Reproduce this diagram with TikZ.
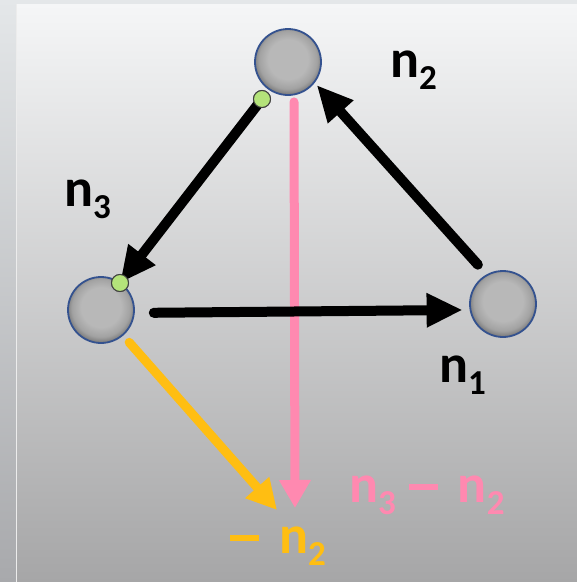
\documentclass[tikz,border=0pt]{standalone}
\usepackage{fontspec}
\setmainfont{Carlito}
\usetikzlibrary{arrows.meta}
\definecolor{bgA}{HTML}{E4E7E9}
\definecolor{bgB}{HTML}{A8A9AC}
\definecolor{pnA}{HTML}{F5F6F7}
\definecolor{pnM}{HTML}{CFD0D2}
\definecolor{pnB}{HTML}{A6A6A7}
\definecolor{ballA}{HTML}{B8B8B8}
\definecolor{ballB}{HTML}{A2A2A2}
\definecolor{ballC}{HTML}{7A7A7A}
\definecolor{rimc}{HTML}{34528F}
\definecolor{dotc}{HTML}{B4E37A}
\definecolor{pinkc}{HTML}{FF89B0}
\definecolor{orc}{HTML}{FFBE12}
\pgfdeclareradialshading{ball}{\pgfpoint{0bp}{3bp}}{color(0bp)=(ballA); color(15bp)=(ballA); color(22bp)=(ballB); color(26bp)=(ballC); color(50bp)=(ballC)}
\newcommand\nsub[1]{n\raisebox{-12pt}{\fontsize{35}{35}\selectfont #1}}
\newcommand\mybar{\rule[12.5pt]{29pt}{5.5pt}}
\begin{document}
\begin{tikzpicture}[x=1pt,y=-1pt,
  ballnode/.style={circle, minimum size=66pt, inner sep=0pt, shading=ball, draw=rimc, line width=1.8pt},
  dotnode/.style={circle, minimum size=17pt, inner sep=0pt, fill=dotc, draw=black!75, line width=1pt},
  blk/.style={line width=10pt, line cap=round, draw=black, -{Triangle[length=36pt,width=32pt]}},
  pinkarr/.style={line width=9pt, line cap=round, draw=pinkc, -{Triangle[length=28pt,width=30pt]}},
  orarr/.style={line width=9pt, line cap=round, draw=orc, -{Triangle[length=30pt,width=30pt]}},
  lbl/.style={inner sep=0pt, anchor=base west, font=\fontsize{54}{54}\selectfont\bfseries}]
\useasboundingbox (0,0) rectangle (577,582);
% background
\shade[top color=bgA, bottom color=bgB] (0,0) rectangle (577,582);
\shade[top color=pnA, middle color=pnM, bottom color=pnB] (16,4) rectangle (577,582);
\draw[white!85!gray, line width=1pt] (16.5,4) -- (16.5,582);
% nodes
\node[ballnode] (T) at (288,62) {};
\node[ballnode] (L) at (101,310) {};
\node[ballnode] (R) at (503,304) {};
\coordinate (pk1) at (295,508);
\coordinate (or1) at (277,510);
\node[dotnode] (g1) at (262,99) {};
\node[dotnode] (g2) at (120,283) {};
% arrows
\draw[pinkarr] ([xshift=6pt,yshift=-6pt]T.south) -- (pk1);
\draw[orarr, shorten <=9pt] (L.-49) -- (or1);
\draw[blk, shorten <=19pt, shorten >=7pt] (L.-5) -- (R.190);
\draw[blk, shorten <=13pt, shorten >=3pt] (R.119) -- (T.-38);
\draw[blk] (g1.center) -- (g2.center);
\node[dotnode] at (g1) {};
\node[dotnode] at (g2) {};
% labels
\node[lbl] (l2) at (390,77) {\nsub{2}};
\node[lbl] (l3) at (64,206) {\nsub{3}};
\node[lbl] (l1) at (439,382) {\nsub{1}};
\node[lbl, text=pinkc] (lp) at (349,502) {\nsub{3}\hspace{13pt}\mybar\hspace{20pt}\nsub{2}};
\node[lbl, text=orc] (lo) at (230,553) {\mybar\hspace{20pt}\nsub{2}};
\end{tikzpicture}
\end{document}
